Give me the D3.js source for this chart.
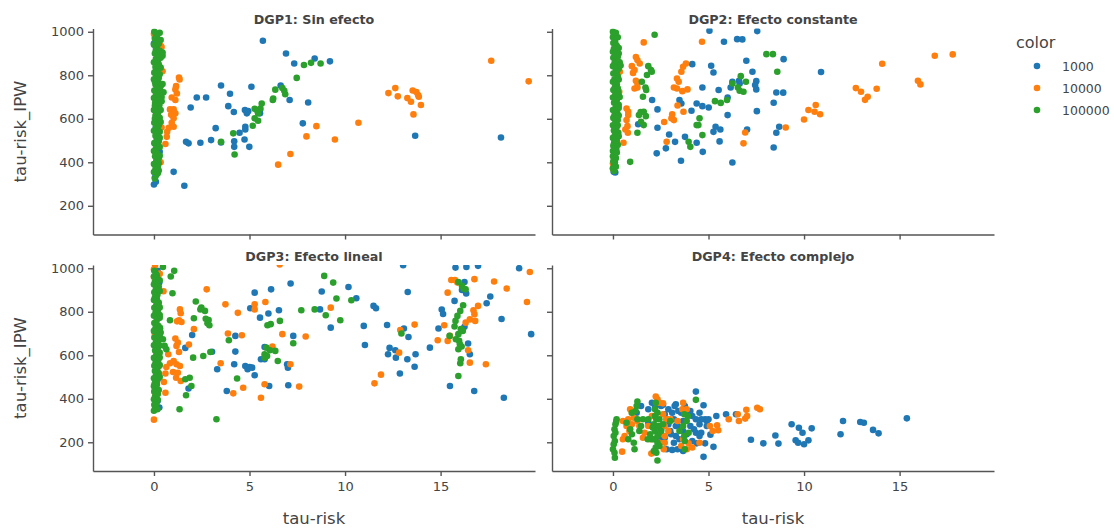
<!DOCTYPE html>
<html>
<head>
<meta charset="utf-8">
<script src="https://cdn.jsdelivr.net/npm/d3@7"></script>
<style>
  body { margin: 0; background: #fff; }
  text { font-family: "DejaVu Sans", Verdana, sans-serif; fill: #444; }
</style>
</head>
<body>
<script>
// series / legend
var seriesNames = ["1000", "10000", "100000"];
var seriesColors = ["#1f77b4", "#ff7f0e", "#2ca02c"];
var panelTitles = ["DGP1: Sin efecto", "DGP2: Efecto constante", "DGP3: Efecto lineal", "DGP4: Efecto complejo"];
var xTicks = [0, 5, 10, 15];
var yTicks = [200, 400, 600, 800, 1000];
var xDomain = [-3.19, 19.94];
var yDomain = [68, 1015];

// ---- DGP1 ----
var dgp1_1000 = [[0.0,946],[0.1,930],[0.15,870],[0.3,820],[0.2,600],[0.3,448],[0.05,330],[0.0,298],[0.1,310],[0.25,700],[0.1,560],
  [5.70,959],[6.91,900],[7.34,854],[8.41,877],[9.21,864],[3.51,753],[3.98,715],[5.10,747],[6.63,753],[2.24,698],[2.73,698],
  [1.92,652],[3.89,658],[4.18,631],[4.76,640],[4.86,625],[4.93,635],[5.55,640],[5.55,625],[7.10,686],[8.07,675],[7.79,579],
  [3.23,557],[4.78,563],[4.78,551],[4.48,536],[4.20,497],[4.20,471],[2.99,502],[3.51,491],[2.43,490],[1.68,494],[1.81,487],
  [4.74,505],[4.99,471],[13.67,522],[18.16,514],[1.03,356],[1.59,292]];
var dgp1_10000 = [[0.0,990],[0.05,975],[0.35,935],[0.4,930],[0.3,820],[0.45,818],[0.4,560],[0.35,400],[0.2,480],[0.3,740],[0.1,650],
  [17.65,867],[19.61,772],[12.27,718],[12.63,741],[12.76,703],[13.26,695],[13.45,678],[13.54,730],[13.73,723],[13.82,709],
  [13.86,701],[13.97,663],[13.58,620],[10.70,582],[8.50,566],[7.98,519],[9.47,505],[7.14,438],[6.50,389],[1.31,790],[1.34,781],
  [1.16,750],[1.12,735],[1.20,716],[0.93,698],[1.12,686],[0.84,643],[1.03,643],[1.12,625],[0.90,618],[1.03,602],[0.93,582],
  [1.03,563],[0.78,559],[0.69,540],[0.67,517],[0.60,484],[0.15,533],[0.19,398]];
var dgp1_100000 = [[0.02,1000],[0.1,985],[0.05,968],[0.2,955],[0.0,940],[0.15,925],[0.3,912],[0.05,900],[0.2,890],[0.45,905],
  [0.45,890],[0.1,875],[0.0,860],[0.25,850],[0.08,838],[0.18,825],[0.02,812],[0.3,805],[0.12,795],[0.0,782],[0.22,770],
  [0.08,758],[0.35,750],[0.15,742],[0.02,730],[0.25,720],[0.1,708],[0.4,700],[0.0,695],[0.18,684],[0.06,672],[0.28,662],
  [0.12,650],[0.0,640],[0.22,628],[0.08,615],[0.3,605],[0.15,595],[0.02,582],[0.25,570],[0.1,558],[0.0,545],[0.2,535],
  [0.08,522],[0.3,512],[0.14,500],[0.02,488],[0.22,476],[0.1,464],[0.0,452],[0.18,440],[0.06,428],[0.25,418],[0.12,405],
  [0.0,392],[0.2,380],[0.08,368],[0.0,355],[0.12,342],[0.05,325],[0.45,760],[0.5,722],[0.4,680],
  [0.3,995],[0.15,978],[0.35,962],[0.25,945],[0.1,915],[0.35,880],[0.2,865],[0.35,835],[0.1,818],[0.25,788],[0.05,770],
  [0.3,735],[0.18,715],[0.3,690],[0.05,660],[0.35,640],[0.18,620],[0.05,600],[0.35,585],[0.2,560],[0.3,540],[0.12,520],
  [0.25,495],[0.3,470],[0.08,450],[0.3,430],[0.15,415],[0.25,395],[0.1,380],[0.25,362],[0.2,350],
  [7.85,847],[8.22,857],[8.72,854],[7.47,788],[6.35,734],[6.72,741],[6.82,729],[6.87,713],[6.22,686],[6.24,693],[5.64,670],
  [5.57,647],[5.27,646],[5.38,640],[5.45,625],[5.27,602],[5.45,591],[5.17,568],[4.15,533],[3.51,494],[4.22,436]];

// ---- DGP2 ----
var dgp2_1000 = [[0.13,916],[0.23,862],[0.17,686],[0.19,625],[0.13,502],[0.17,459],[0.1,425],[0.04,356],[0.12,353],
  [5.05,1005],[5.81,954],[6.50,966],[6.77,965],[7.55,1003],[6.98,867],[8.93,874],[4.15,851],[5.14,844],[5.26,813],[7.30,816],
  [10.89,815],[4.68,744],[5.53,732],[6.16,744],[6.25,770],[6.60,775],[6.63,762],[7.50,773],[7.44,755],[7.50,735],[8.55,721],
  [8.91,720],[2.05,686],[3.48,686],[3.58,670],[4.38,670],[4.68,658],[5.01,652],[4.11,637],[2.33,643],[6.00,698],[8.41,674],
  [7.53,635],[6.00,617],[1.32,575],[2.33,559],[5.37,563],[5.26,540],[5.62,551],[7.02,551],[8.70,563],[8.55,536],[2.94,528],
  [3.25,494],[2.77,464],[2.29,441],[3.77,517],[4.38,490],[4.70,448],[5.58,496],[8.41,468],[3.56,407],[6.25,399]];
var dgp2_10000 = [[0.04,425],[0.0,395],[0.04,380],[0.13,448],[0.29,701],[0.0,370],
  [17.78,896],[16.84,890],[14.09,853],[15.96,775],[16.09,758],[12.71,741],[12.98,724],[13.33,701],[13.19,687],[13.80,738],
  [10.61,663],[10.23,640],[10.55,632],[10.84,621],[10.00,597],[9.04,560],[6.92,537],[6.83,487],[4.66,954],[1.61,951],
  [1.20,884],[1.28,870],[1.40,854],[0.99,842],[1.13,824],[1.05,811],[1.20,775],[1.28,762],[1.13,739],[1.28,744],[0.71,647],
  [0.80,632],[0.80,617],[0.76,566],[0.65,551],[0.78,536],[0.71,594],[0.55,490],[3.82,854],[3.67,839],[3.58,816],[3.35,785],
  [3.44,770],[3.19,744],[3.35,739],[3.63,727],[3.90,735],[3.38,661],[2.68,585],[3.10,620],[3.06,602],[3.19,594],[2.81,494],
  [3.69,632],[0.36,816],[0.23,778],[0.33,724]];
var dgp2_100000 = [[0.0,1000],[0.05,988],[0.0,975],[0.1,962],[0.02,948],[0.2,935],[0.05,922],[0.0,908],[0.3,900],[0.12,893],
  [0.02,880],[0.22,868],[0.08,855],[0.0,842],[0.3,830],[0.15,820],[0.02,808],[0.25,795],[0.08,782],[0.0,770],[0.2,758],
  [0.1,745],[0.02,732],[0.28,722],[0.12,710],[0.0,698],[0.2,686],[0.06,674],[0.3,664],[0.14,652],[0.0,640],[0.22,628],
  [0.08,616],[0.02,604],[0.25,594],[0.12,582],[0.0,570],[0.18,558],[0.05,546],[0.28,536],[0.1,524],[0.0,512],[0.2,500],
  [0.06,488],[0.02,476],[0.15,464],[0.0,452],[0.08,440],[0.0,428],[0.12,416],[0.02,404],[0.06,390],[0.0,372],[0.05,360],
  [0.35,860],[0.4,845],[0.35,700],[0.3,650],
  [0.15,995],[0.25,975],[0.12,950],[0.3,925],[0.15,905],[0.25,885],[0.12,838],[0.2,815],[0.3,780],[0.12,765],[0.25,740],
  [0.3,705],[0.12,690],[0.25,660],[0.1,635],[0.3,615],[0.15,598],[0.25,570],[0.1,555],[0.3,520],[0.15,510],[0.25,480],
  [0.1,470],[0.2,445],[0.15,420],[0.1,400],[0.15,380],
  [2.18,986],[8.03,897],[8.37,897],[8.60,816],[1.85,842],[1.99,824],[1.78,801],[2.03,816],[1.51,770],[1.70,744],[1.74,732],
  [1.57,701],[1.45,631],[1.61,632],[1.72,612],[1.36,617],[1.47,586],[1.61,571],[1.28,536],[0.90,402],[6.69,796],[6.25,762],
  [6.54,744],[6.63,729],[6.83,724],[6.96,770],[5.34,681],[5.64,673],[5.97,686],[4.53,602],[4.38,571],[4.47,571],[4.68,525],
  [3.96,494],[4.05,471]];

// ---- DGP3 ----
var dgp3_1000 = [[0.19,988],[0.28,935],[0.19,919],[0.2,670],[0.19,390],[0.28,360],[0.2,490],
  [13.04,1014],[15.78,1003],[16.35,1006],[16.96,1011],[19.11,1000],[19.74,697],[18.31,405],[18.19,767],[17.60,870],[17.41,839],
  [16.76,436],[15.49,459],[15.06,810],[15.13,790],[14.89,723],[14.44,635],[15.73,850],[16.25,937],[16.34,884],[16.12,900],
  [16.25,731],[16.44,654],[16.53,605],[13.28,891],[13.32,684],[13.08,723],[13.69,605],[13.64,547],[13.26,582],[12.87,516],
  [12.33,634],[12.63,623],[12.25,605],[12.66,589],[12.20,739],[11.49,827],[11.62,816],[10.98,735],[11.04,647],[10.59,862],
  [10.18,914],[8.78,893],[8.69,811],[9.25,727],[7.15,930],[7.29,689],[6.97,559],[7.01,543],[7.03,462],[6.13,903],[6.54,807],
  [5.99,792],[5.55,773],[5.79,638],[5.60,582],[5.79,582],[6.03,459],[5.04,816],[5.27,888],[4.78,551],[4.90,536],[5.01,546],
  [5.14,543],[5.27,508],[4.26,689],[4.26,617],[4.20,559],[3.81,436],[3.31,536],[3.04,616],[2.00,693],[1.81,447],[1.64,634]];
var dgp3_10000 = [[0.06,1015],[0.0,995],[0.28,975],[0.0,960],[0.04,700],[0.19,597],[0.15,475],[0.04,430],
  [19.67,983],[19.52,845],[18.46,907],[17.80,939],[17.37,559],[16.77,950],[16.96,827],[16.72,807],[16.77,789],[16.53,765],
  [16.81,758],[16.31,750],[16.53,566],[16.44,623],[15.37,888],[15.56,946],[15.75,946],[15.88,934],[15.37,666],[15.49,689],
  [14.85,669],[15.19,738],[13.64,741],[12.89,716],[12.83,612],[11.88,511],[11.54,471],[9.25,819],[7.94,686],[7.60,456],
  [7.14,559],[6.72,697],[6.58,1018],[6.20,640],[5.79,467],[5.60,405],[5.83,845],[5.27,834],[5.27,811],[4.39,795],[3.74,834],
  [3.87,700],[4.60,692],[4.67,451],[4.15,425],[3.49,563],[2.76,903],[2.09,720],[1.83,649],[1.36,811],[1.40,793],[1.31,761],
  [1.44,753],[1.21,756],[1.12,677],[1.25,658],[1.18,643],[1.31,615],[1.03,574],[0.84,563],[1.18,559],[1.0,523],[1.25,520],
  [1.16,497],[1.40,482],[1.36,551],[0.60,516],[0.60,428],[0.52,477],[0.50,894],[0.30,975],[0.0,304],[0.13,597],[0.28,551],
  [0.65,546],[0.75,605]];
var dgp3_100000 = [[0.02,988],[0.1,975],[0.0,962],[0.2,950],[0.05,938],[0.0,925],[0.25,915],[0.1,902],[0.02,890],[0.18,878],
  [0.05,866],[0.0,854],[0.25,842],[0.12,830],[0.02,818],[0.2,806],[0.08,794],[0.0,782],[0.3,772],[0.14,760],[0.02,748],
  [0.22,736],[0.08,724],[0.0,712],[0.35,705],[0.15,694],[0.02,682],[0.25,670],[0.1,658],[0.0,646],[0.2,634],[0.06,622],
  [0.3,612],[0.12,600],[0.0,588],[0.22,576],[0.08,564],[0.02,552],[0.18,540],[0.05,528],[0.25,518],[0.1,506],[0.0,494],
  [0.15,482],[0.04,470],[0.0,458],[0.12,446],[0.02,434],[0.2,422],[0.06,410],[0.0,398],[0.1,386],[0.02,372],[0.06,358],
  [0.0,345],
  [0.15,968],[0.3,945],[0.12,930],[0.3,895],[0.15,860],[0.3,820],[0.12,800],[0.3,785],[0.12,742],[0.3,728],[0.12,710],
  [0.3,690],[0.18,660],[0.3,645],[0.15,625],[0.3,590],[0.15,570],[0.3,555],[0.12,535],[0.3,500],[0.15,465],[0.25,440],
  [0.12,418],[0.2,395],[0.12,375],[0.18,352],
  [15.93,937],[16.12,919],[16.31,903],[16.21,906],[16.18,830],[16.03,804],[15.88,781],[15.78,758],[15.73,732],[15.47,689],
  [15.93,697],[16.06,720],[16.16,712],[15.80,674],[15.97,666],[16.01,651],[15.93,628],[16.10,640],[16.06,582],[16.03,563],
  [15.93,505],[12.95,700],[10.33,853],[9.75,761],[9.55,861],[9.38,934],[8.99,784],[8.91,965],[8.41,811],[7.71,807],
  [7.29,655],[6.59,758],[6.48,574],[6.35,620],[6.11,743],[5.94,738],[6.07,623],[5.79,605],[5.92,597],[5.79,589],[5.88,635],
  [4.35,493],[3.92,669],[3.27,306],[2.95,615],[2.86,762],[2.71,768],[2.80,747],[2.90,738],[2.58,597],[2.48,819],[2.67,804],
  [2.43,811],[2.19,847],[2.09,770],[2.05,589],[1.87,497],[1.96,459],[1.64,490],[1.68,416],[1.34,352],[1.06,988],[0.88,962],
  [0.97,885],[0.84,761],[0.47,1006],[0.56,643],[0.47,674],[0.65,628],[0.32,724],[0.24,697]];

// ---- DGP4 ----
var dgp4_1000 = [[15.38,310],[13.61,257],[13.90,241],[12.94,293],[13.13,290],[12.04,298],[11.91,237],[10.40,264],[10.23,209],
  [10.0,191],[9.92,244],[9.73,267],[9.56,209],[9.35,283],[9.69,198],[8.66,194],[8.50,231],[7.87,195],[7.22,212],[5.92,329],
  [6.44,329],[5.41,321],[5.26,179],[4.74,133],[4.34,433],[4.74,370],[4.82,306],[4.91,298],[4.82,195],[4.38,195],[4.53,229],
  [5.10,235],[2.04,382],[2.2,367],[2.62,372],[2.71,329],[2.9,352],[3.1,336],[3.19,306],[3.29,375],[3.29,275],[3.0,252],
  [3.29,229],[3.19,198],[3.48,214],[2.81,168],[3.1,165],[3.57,336],[3.67,298],[3.38,275],[3.96,336],[4.15,321],[4.05,275],
  [4.24,260],[4.53,283],[4.62,306],[3.67,252],[3.86,237],[3.38,168],[3.67,160],[4.15,206],[4.53,336],[5.0,306],[1.85,352],
  [2.2,275],[1.85,290],[2.43,214],[2.71,221],[2.52,260],[2.9,283],[3.04,237],[2.81,306],[3.42,344],[3.76,367],[4.05,344],
  [4.34,306],[1.24,336],[1.47,367],[4.34,244],[4.62,244],[4.91,275],[3.23,367],[2.52,367]];
var dgp4_10000 = [[7.55,359],[7.69,352],[6.98,349],[7.02,321],[6.92,309],[6.59,298],[6.53,329],[6.06,306],[5.07,275],[5.22,252],
  [5.45,278],[5.51,255],[4.53,198],[2.24,410],[2.33,398],[2.43,382],[2.62,379],[0.9,352],[0.99,336],[0.8,306],[0.99,283],
  [0.52,298],[0.71,275],[0.61,229],[0.52,214],[0.48,157],[1.85,275],[1.66,244],[1.95,214],[1.57,221],[1.38,275],[1.28,298],
  [2.43,198],[2.71,198],[2.81,306],[2.71,275],[2.9,252],[2.71,229],[2.66,168],[2.2,159],[2.01,148],[3.67,382],[3.63,352],
  [3.86,352],[3.57,183],[3.96,195],[3.86,168],[3.67,214],[2.62,329],[2.04,321],[1.09,313],[0.86,252],[4.15,176],[3.38,298],
  [3.0,306]];
var dgp4_100000 = [[4.34,395],[3.73,329],[3.92,321],[3.67,275],[3.86,298],[3.73,229],[3.76,206],[3.96,244],[1.28,387],
  [1.24,367],[2.33,116],[2.24,382],[2.2,352],[2.33,336],[2.27,306],[2.14,283],[2.39,275],[2.2,252],[2.33,229],[2.14,214],
  [2.33,198],[2.24,176],[2.14,160],[2.27,152],[2.04,214],[1.95,237],[2.43,306],[2.52,252],[1.85,306],[2.2,321],[2.39,237],
  [2.08,268],[2.43,183],[1.82,214],[2.62,283],[0.19,306],[0.13,283],[0.08,260],[0.04,229],[0.1,206],[0.04,191],[0.0,168],
  [0.08,152],[0.1,129],[0.13,244],[0.17,294],[0.71,290],[0.9,260],[0.99,237],[0.8,214],[1.09,198],[1.13,168],[1.28,306],
  [1.38,252],[0.99,336],[1.18,344],[1.47,275],[1.57,306],[3.0,298],[3.48,252],[3.76,168]];

var panelData = [
  [dgp1_1000, dgp1_10000, dgp1_100000],
  [dgp2_1000, dgp2_10000, dgp2_100000],
  [dgp3_1000, dgp3_10000, dgp3_100000],
  [dgp4_1000, dgp4_10000, dgp4_100000]
];

// layout
var width = 1114, height = 528;
var pw = 442, ph = 206;
var colLeft = [93, 552], rowTop = [28.5, 265];

var svg = d3.select("body").append("svg")
  .attr("width", width).attr("height", height);
svg.append("rect").attr("width", width).attr("height", height).attr("fill", "#fff");

var x = d3.scaleLinear().domain(xDomain).range([0, pw]);
var y = d3.scaleLinear().domain(yDomain).range([ph, 0]);

panelData.forEach(function(series, p){
  var col = p % 2, row = Math.floor(p / 2);
  var g = svg.append("g").attr("transform", "translate(" + colLeft[col] + "," + rowTop[row] + ")");

  g.append("clipPath").attr("id", "clip" + p)
    .append("rect").attr("width", pw).attr("height", ph);

  var pts = g.append("g").attr("clip-path", "url(#clip" + p + ")");
  series.forEach(function(d, s){
    pts.selectAll(".s" + s)
      .data(d)
      .enter()
      .append("circle")
      .attr("class", "s" + s)
      .attr("cx", function(v){ return x(v[0]); })
      .attr("cy", function(v){ return y(v[1]); })
      .attr("r", 3.3)
      .attr("fill", seriesColors[s]);
  });

  // axes
  var xa = d3.axisBottom(x).tickValues(xTicks).tickSize(5).tickSizeOuter(0).tickPadding(6);
  if (row == 0) xa.tickFormat("");
  var ya = d3.axisLeft(y).tickValues(yTicks).tickSize(5).tickSizeOuter(0).tickPadding(4)
    .tickFormat(d3.format("d"));
  if (col == 1) ya.tickFormat("");

  var gx = g.append("g").attr("transform", "translate(0," + ph + ")").call(xa);
  var gy = g.append("g").call(ya);
  [gx, gy].forEach(function(a){
    a.selectAll("path, line").attr("stroke", "#555").attr("stroke-width", 1.4);
    a.selectAll("text").attr("fill", "#444").style("font-size", "13px")
      .style("font-family", "'DejaVu Sans', Verdana, sans-serif");
  });

  // panel title
  g.append("text")
    .attr("x", pw / 2).attr("y", -4.5)
    .attr("text-anchor", "middle")
    .style("font-size", "12.7px").style("font-weight", "bold")
    .text(panelTitles[p]);

  if (col == 0) {
    g.append("text")
      .attr("transform", "translate(" + (-67) + "," + (ph / 2) + ") rotate(-90)")
      .attr("text-anchor", "middle")
      .style("font-size", "16.5px")
      .text("tau-risk_IPW");
  }
  if (row == 1) {
    g.append("text")
      .attr("x", pw / 2).attr("y", ph + 53)
      .attr("text-anchor", "middle")
      .style("font-size", "16.5px")
      .text("tau-risk");
  }
});

// legend
var legend = svg.append("g").attr("transform", "translate(1008,0)");
legend.append("text").attr("x", 8).attr("y", 48).style("font-size", "16px").text("color");
seriesNames.forEach(function(n, i){
  var ly = 66 + i * 22;
  legend.append("circle").attr("cx", 29).attr("cy", ly).attr("r", 3.3).attr("fill", seriesColors[i]);
  legend.append("text").attr("x", 54).attr("y", ly + 4.5).style("font-size", "12.5px").text(n);
});
</script>
</body>
</html>
